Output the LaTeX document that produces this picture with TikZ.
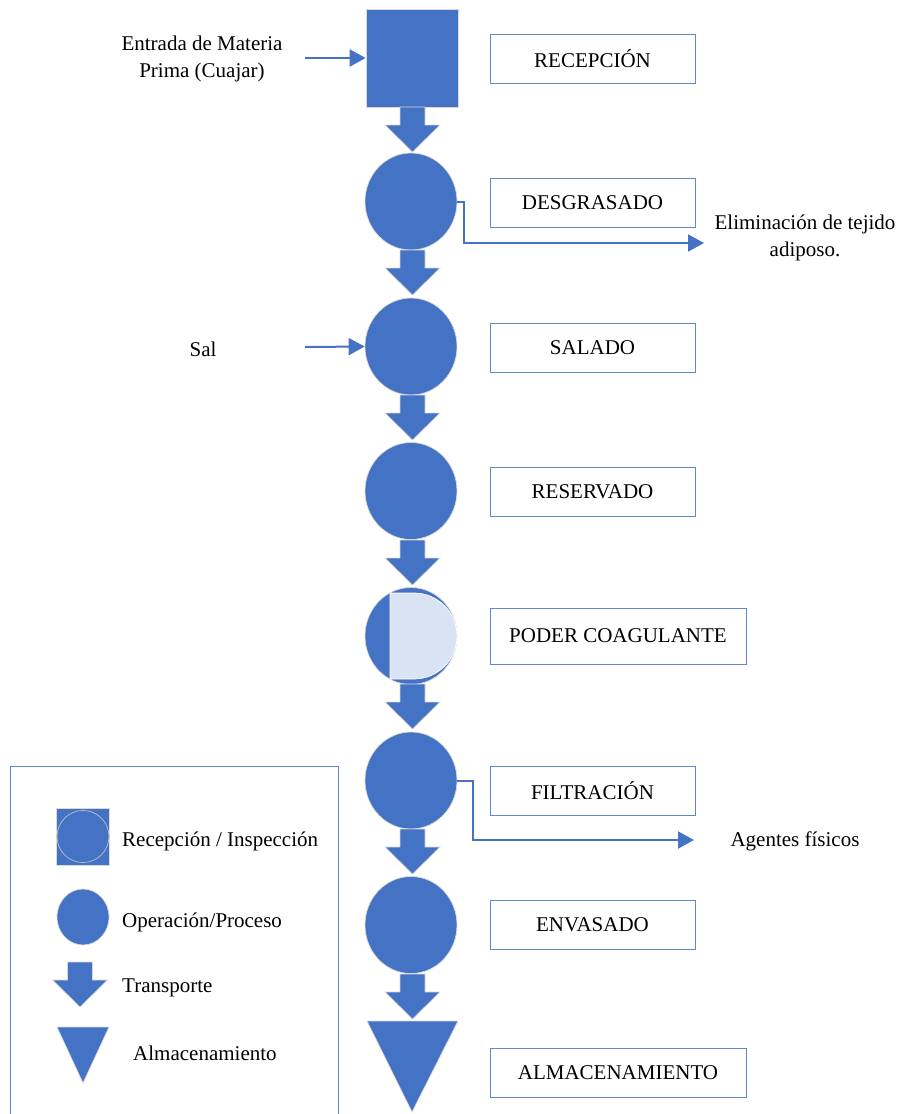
\documentclass[tikz,border=0pt]{standalone}
\usepackage{fontspec}
\setmainfont{Liberation Serif}
\usetikzlibrary{shapes.geometric,arrows.meta}
\definecolor{ofblue}{HTML}{4472C4}
\definecolor{oflight}{HTML}{DAE3F3}
\begin{document}
\begin{tikzpicture}[x=1pt,y=1pt,
  font=\fontsize{21}{27.5}\selectfont,
  shapeedge/.style={draw=black!15,line width=0.7pt},
  proc/.style={ellipse,fill=ofblue,shapeedge,minimum width=92pt,minimum height=97pt,inner sep=0pt},
  recep/.style={rectangle,fill=ofblue,shapeedge,minimum width=92pt,minimum height=98pt,inner sep=0pt},
  label box/.style={rectangle,draw=ofblue!85!white,line width=0.9pt,minimum width=205pt,minimum height=49pt,inner sep=0pt},
  flow/.style={draw=ofblue,line width=2pt,-{Triangle[length=16pt,width=17pt]}},
  plain/.style={inner sep=0pt,align=center},
  transp/.pic={\fill[ofblue,shapeedge] (-12.5,0) -- (12.5,0) -- (12.5,-18) -- (27.5,-18) -- (0,-45) -- (-27.5,-18) -- (-12.5,-18) -- cycle;}
]
\useasboundingbox (0,0) rectangle (900,-1114);

% main column
\node[recep] (rec) at (412,-58) {};
\pic at (412.5,-107) {transp};
\node[proc] (c1) at (411,-201.5) {};
\pic at (412.5,-250) {transp};
\node[proc] (c2) at (411,-346.5) {};
\pic at (412.5,-395) {transp};
\node[proc] (c3) at (411,-491) {};
\pic at (412.5,-540) {transp};
\node[proc] (c4) at (411,-636) {};
\fill[oflight,draw=white,line width=0.7pt] (390,-593) -- (414,-593) arc[start angle=90,end angle=-90,radius=43] -- (390,-679) -- cycle;
\pic at (412.5,-684) {transp};
\node[proc] (c5) at (411,-780.5) {};
\pic at (412.5,-829) {transp};
\node[proc] (c6) at (411,-925) {};
\pic at (412.5,-974) {transp};
\fill[ofblue,shapeedge] (367,-1021) -- (458,-1021) -- (412,-1112) -- cycle;
\coordinate (alm) at (412,-1050);

% label boxes
\node[label box] (b1) at (592.5,-58.5) {RECEPCIÓN};
\node[label box] (b2) at (592.5,-202.5) {DESGRASADO};
\node[label box] (b3) at (592.5,-347.5) {SALADO};
\node[label box] (b4) at (592.5,-491.5) {RESERVADO};
\node[label box,minimum width=256pt,minimum height=56pt] (b5) at (618,-636) {PODER COAGULANTE};
\node[label box] (b6) at (592.5,-791) {FILTRACIÓN};
\node[label box] (b7) at (592.5,-924.5) {ENVASADO};
\node[label box,minimum width=256pt] (b8) at (618,-1073) {ALMACENAMIENTO};

% inputs
\node[plain] (entrada) at (202,-59) {Entrada de Materia\\Prima (Cuajar)};
\coordinate (in1) at (305,-58);
\draw[flow] (in1) -- (rec.west);
\node[plain] (sal) at (203,-349) {Sal};
\coordinate (in2) at (305,-347);
\draw[flow] (in2) -- (c2.west);

% outputs
\coordinate (out1) at (704,-243);
\draw[flow] (c1.east) -- ++(7,0) |- (out1);
\node[plain] (elim) at (805,-238) {Eliminación de tejido\\adiposo.};
\coordinate (out2) at (694,-840);
\draw[flow] (c5.east) -- ++(16,0) |- (out2);
\node[plain] (agentes) at (795,-841) {Agentes físicos};

% legend
\draw[draw=ofblue!85!white,line width=0.9pt] (10,-1130) -- (10,-766) -- (338,-766) -- (338,-1130);
\node[rectangle,fill=ofblue,draw=black!15,line width=0.7pt,minimum width=53pt,minimum height=57pt,inner sep=0pt] (lsq) at (83,-836.5) {};
\node[circle,fill=ofblue,draw=black!25,line width=0.7pt,minimum size=52pt,inner sep=0pt] (lsqc) at (83,-836.5) {};
\node[anchor=west,inner sep=0pt] (t1) at (122,-841) {Recepción / Inspección};
\node[ellipse,fill=ofblue,shapeedge,minimum width=52pt,minimum height=56pt,inner sep=0pt] (lci) at (83,-917) {};
\node[anchor=west,inner sep=0pt] (t2) at (122,-922) {Operación/Proceso};
\pic at (80,-962) {transp};
\node[anchor=west,inner sep=0pt] (t3) at (122,-988) {Transporte};
\fill[ofblue,shapeedge] (57,-1027) -- (109,-1027) -- (83,-1083) -- cycle;
\node[anchor=west,inner sep=0pt] (t4) at (133,-1053) {Almacenamiento};
\end{tikzpicture}
\end{document}
